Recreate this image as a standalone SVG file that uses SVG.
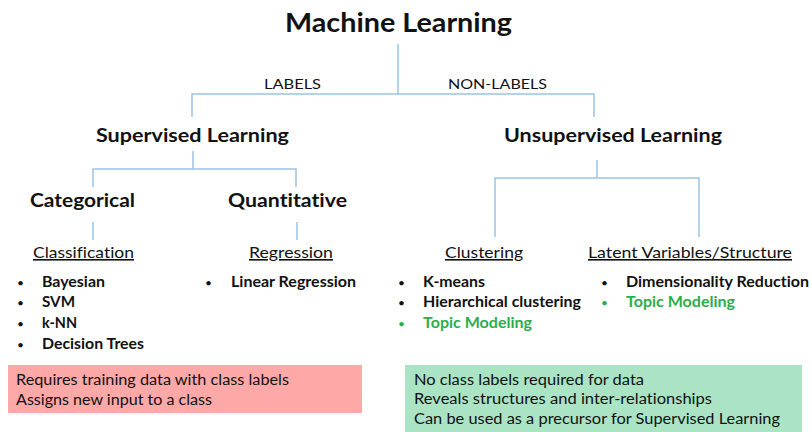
<svg xmlns="http://www.w3.org/2000/svg" width="812" height="432" viewBox="0 0 812 432">
<style>
text{font-family:Lato,"Liberation Sans",sans-serif;fill:#111;font-variant-ligatures:none}
.t{font-size:27px;font-weight:bold}
.h{font-size:19px;font-weight:bold}
.s{font-size:16px;text-decoration:underline}
.b{font-size:15.5px;font-weight:bold}
.d{font-size:12px}
.g{fill:#2aae4a}
.l{font-size:14px}
.n{font-size:15.5px}
.c{stroke:#9dc3e6;stroke-width:1.5;fill:none}
</style>
<rect width="812" height="432" fill="#fff"/>
<g id="connectors" class="c">
<path d="M398 44V94M192 117V94H594V117"/>
<path d="M193 151V169M93 187V169H296V187"/>
<path d="M93 222V240M297 222V240"/>
<path d="M597 160V178M495 237V178H699V237"/>
</g>
<g id="ml"><text class="t" x="285" y="32" textLength="227" lengthAdjust="spacingAndGlyphs">Machine Learning</text></g>
<g id="labels"><text class="l" x="264" y="89" textLength="57" lengthAdjust="spacingAndGlyphs">LABELS</text>
<text class="l" x="448" y="89" textLength="99" lengthAdjust="spacingAndGlyphs">NON-LABELS</text></g>
<g id="supervised"><text class="h" x="96" y="142" textLength="193" lengthAdjust="spacingAndGlyphs">Supervised Learning</text></g>
<g id="unsupervised"><text class="h" x="504" y="142" textLength="218" lengthAdjust="spacingAndGlyphs">Unsupervised Learning</text></g>
<g id="categorical"><text class="h" x="30" y="207" textLength="105" lengthAdjust="spacingAndGlyphs">Categorical</text></g>
<g id="quantitative"><text class="h" x="228" y="207" textLength="119" lengthAdjust="spacingAndGlyphs">Quantitative</text></g>
<g id="classification"><text class="s" x="33" y="258" textLength="101" lengthAdjust="spacingAndGlyphs">Classification</text>
<text class="d" x="17" y="287">•</text><text class="b" x="42" y="287" textLength="63" lengthAdjust="spacingAndGlyphs">Bayesian</text>
<text class="d" x="17" y="307">•</text><text class="b" x="42" y="307" textLength="33" lengthAdjust="spacingAndGlyphs">SVM</text>
<text class="d" x="17" y="328">•</text><text class="b" x="42" y="328" textLength="35" lengthAdjust="spacingAndGlyphs">k-NN</text>
<text class="d" x="17" y="349">•</text><text class="b" x="42" y="349" textLength="102" lengthAdjust="spacingAndGlyphs">Decision Trees</text></g>
<g id="regression"><text class="s" x="249" y="258" textLength="84" lengthAdjust="spacingAndGlyphs">Regression</text>
<text class="d" x="205" y="287">•</text><text class="b" x="231" y="287" textLength="125" lengthAdjust="spacingAndGlyphs">Linear Regression</text></g>
<g id="clustering"><text class="s" x="445" y="258" textLength="78" lengthAdjust="spacingAndGlyphs">Clustering</text>
<text class="d" x="398" y="287">•</text><text class="b" x="423" y="287" textLength="62" lengthAdjust="spacingAndGlyphs">K-means</text>
<text class="d" x="398" y="307">•</text><text class="b" x="423" y="307" textLength="158" lengthAdjust="spacingAndGlyphs">Hierarchical clustering</text>
<text class="d g" x="398" y="328">•</text><text class="b g" x="423" y="328" textLength="109" lengthAdjust="spacingAndGlyphs">Topic Modeling</text></g>
<g id="latent"><text class="s" x="588" y="258" textLength="204" lengthAdjust="spacingAndGlyphs">Latent Variables/Structure</text>
<text class="d" x="601" y="287">•</text><text class="b" x="626" y="287" textLength="183" lengthAdjust="spacingAndGlyphs">Dimensionality Reduction</text>
<text class="d g" x="601" y="307">•</text><text class="b g" x="626" y="307" textLength="109" lengthAdjust="spacingAndGlyphs">Topic Modeling</text></g>
<g id="sup-box"><rect x="8" y="365" width="354" height="48" fill="#ffa8a8"/>
<text class="n" x="16" y="385" textLength="273" lengthAdjust="spacingAndGlyphs">Requires training data with class labels</text>
<text class="n" x="16" y="405" textLength="196" lengthAdjust="spacingAndGlyphs">Assigns new input to a class</text></g>
<g id="unsup-box"><rect x="405" y="365" width="397" height="67" fill="#aae4c5"/>
<text class="n" x="414" y="385" textLength="230" lengthAdjust="spacingAndGlyphs">No class labels required for data</text>
<text class="n" x="414" y="404" textLength="298" lengthAdjust="spacingAndGlyphs">Reveals structures and inter-relationships</text>
<text class="n" x="414" y="424" textLength="366" lengthAdjust="spacingAndGlyphs">Can be used as a precursor for Supervised Learning</text></g>
</svg>
